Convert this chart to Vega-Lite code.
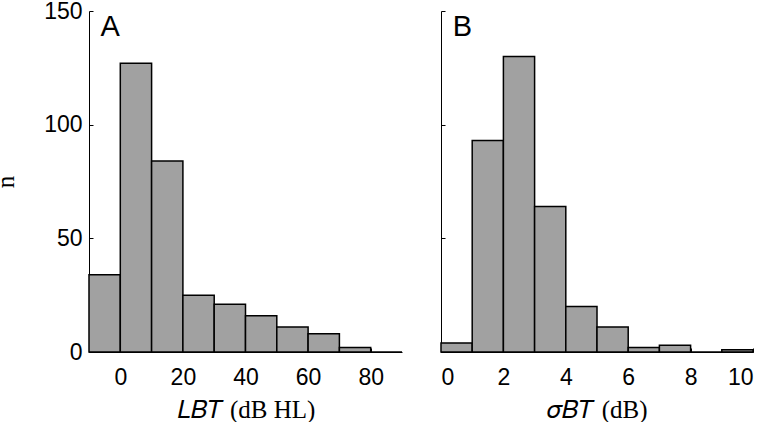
{
  "$schema": "https://vega.github.io/schema/vega-lite/v6.json",
  "padding": {"left": -7, "top": 0, "right": 0, "bottom": 0},
  "background": "white",
  "spacing": 37,
  "datasets": {
    "hearing": [
      {"bin_start": -10, "bin_end": 0, "n": 34},
      {"bin_start": 0, "bin_end": 10, "n": 127},
      {"bin_start": 10, "bin_end": 20, "n": 84},
      {"bin_start": 20, "bin_end": 30, "n": 25},
      {"bin_start": 30, "bin_end": 40, "n": 21},
      {"bin_start": 40, "bin_end": 50, "n": 16},
      {"bin_start": 50, "bin_end": 60, "n": 11},
      {"bin_start": 60, "bin_end": 70, "n": 8},
      {"bin_start": 70, "bin_end": 80, "n": 2},
      {"bin_start": 80, "bin_end": 90, "n": 0}
    ],
    "sigma": [
      {"bin_start": 0, "bin_end": 1, "n": 4},
      {"bin_start": 1, "bin_end": 2, "n": 93},
      {"bin_start": 2, "bin_end": 3, "n": 130},
      {"bin_start": 3, "bin_end": 4, "n": 64},
      {"bin_start": 4, "bin_end": 5, "n": 20},
      {"bin_start": 5, "bin_end": 6, "n": 11},
      {"bin_start": 6, "bin_end": 7, "n": 2},
      {"bin_start": 7, "bin_end": 8, "n": 3},
      {"bin_start": 8, "bin_end": 9, "n": 0},
      {"bin_start": 9, "bin_end": 10, "n": 1}
    ],
    "labelsA": [{"label": "A", "lx": -6.3, "ly": 139}],
    "labelsB": [{"label": "B", "lx": 0.38, "ly": 139}]
  },
  "config": {
    "view": {"stroke": null},
    "axis": {
      "grid": false,
      "domainColor": "black",
      "domainWidth": 1,
      "tickColor": "black",
      "tickWidth": 1,
      "tickSize": -4,
      "labelFont": "Liberation Sans",
      "labelFontSize": 23,
      "labelColor": "black",
      "titleFont": "Liberation Serif",
      "titleFontSize": 25,
      "titleFontWeight": "normal",
      "titleColor": "black"
    }
  },
  "hconcat": [
    {
      "width": 313,
      "height": 341,
      "layer": [
        {
          "data": {"name": "hearing"},
          "mark": {"type": "bar", "fill": "#a1a1a1", "stroke": "black", "strokeWidth": 1.5},
          "encoding": {
            "x": {"field": "bin_start", "type": "quantitative",
                  "scale": {"domain": [-10, 90], "nice": false, "zero": false},
                  "axis": {"values": [0, 20, 40, 60, 80], "labelPadding": 18, "title": "𝐿𝐵𝑇 (dB HL)", "titlePadding": 8}},
            "x2": {"field": "bin_end"},
            "y": {"field": "n", "type": "quantitative",
                  "scale": {"domain": [0, 150], "nice": false},
                  "axis": {"values": [0, 50, 100, 150], "labelPadding": 11, "title": "n", "titlePadding": 25}},
            "y2": {"datum": 0}
          }
        },
        {
          "data": {"name": "labelsA"},
          "mark": {"type": "text", "font": "Liberation Sans", "fontSize": 29, "align": "left", "baseline": "alphabetic", "color": "black"},
          "encoding": {
            "x": {"field": "lx", "type": "quantitative"},
            "y": {"field": "ly", "type": "quantitative"},
            "text": {"field": "label"}
          }
        }
      ]
    },
    {
      "width": 312,
      "height": 341,
      "layer": [
        {
          "data": {"name": "sigma"},
          "mark": {"type": "bar", "fill": "#a1a1a1", "stroke": "black", "strokeWidth": 1.5},
          "encoding": {
            "x": {"field": "bin_start", "type": "quantitative",
                  "scale": {"domain": [0, 10], "nice": false, "zero": false},
                  "axis": {"values": [0, 2, 4, 6, 8, 10], "labelPadding": 18, "title": "𝜎𝐵𝑇 (dB)", "titlePadding": 8}},
            "x2": {"field": "bin_end"},
            "y": {"field": "n", "type": "quantitative",
                  "scale": {"domain": [0, 150], "nice": false},
                  "axis": {"values": [0, 50, 100, 150], "labels": false, "title": null}},
            "y2": {"datum": 0}
          }
        },
        {
          "data": {"name": "labelsB"},
          "mark": {"type": "text", "font": "Liberation Sans", "fontSize": 29, "align": "left", "baseline": "alphabetic", "color": "black"},
          "encoding": {
            "x": {"field": "lx", "type": "quantitative"},
            "y": {"field": "ly", "type": "quantitative"},
            "text": {"field": "label"}
          }
        }
      ]
    }
  ]
}
